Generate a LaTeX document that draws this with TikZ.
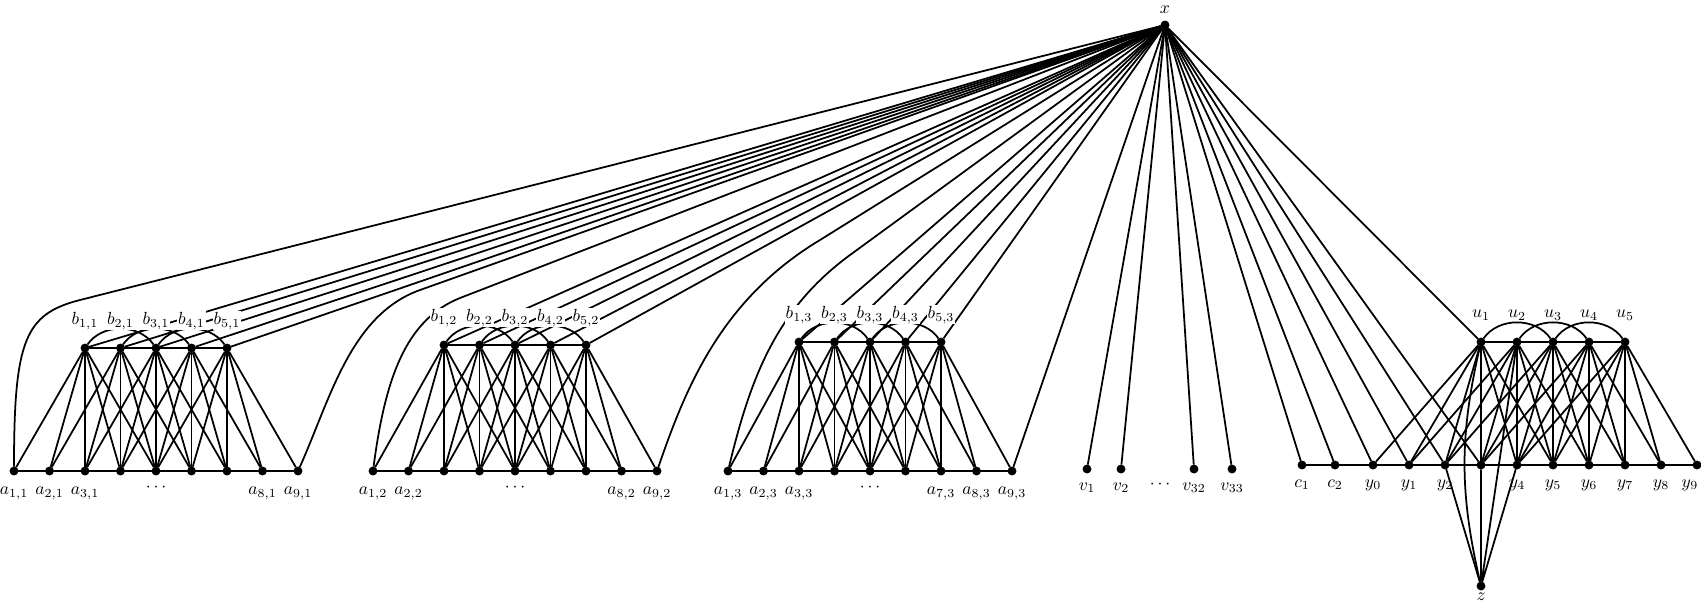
\documentclass[tikz,border=0pt]{standalone}
\usetikzlibrary{positioning}
\begin{document}
\begin{tikzpicture}[x=0.02cm,y=-0.02cm,line width=1pt,
  point/.style={draw,circle,fill=black,inner sep=0pt,minimum size=4pt},
  lab/.style={fill=white,inner sep=0.5pt}]
\useasboundingbox (0,0) rectangle (1701,610);
\node (x) at (1165,25)[point,label=above:$x$] {};
% the three blocks a_{i,k}, b_{i,k}
\foreach \k/\s/\h/\list in {1/14/348/{1,2,3,8,9},2/373/345/{1,2,8,9},3/728/342/{1,2,3,7,8,9}}{
  \foreach \i in {1,...,9}
    \node (a\i\k) at (\s+35.5*\i-35.5,471)[point] {};
  \foreach \i in \list
    \node (la\i\k)[below=3pt of a\i\k] {$a_{\i,\k}$};
  \node (dots\k) at (\s+142,488) {$\cdots$};
  \foreach \i in {1,...,5}
    \node (b\i\k) at (\s+35.5*\i+35.5,\h)[point] {};
  \draw (a1\k)--(a9\k) (b1\k)--(b5\k);
  \draw (b1\k) to[bend left=55] (b3\k) (b2\k) to[bend left=55] (b4\k) (b3\k) to[bend left=55] (b5\k);
  \foreach \i in {1,...,5}{
    \pgfmathtruncatemacro\last{\i+4}
    \foreach \j in {\i,...,\last}
      \draw (b\i\k)--(a\j\k);
    \draw (x)--(b\i\k);
  }
}
% ends of the blocks
\draw (a11) .. controls (14,340) and (25,314) .. (80,300) -- (x);
\draw (a91) .. controls (330,400) and (350,315) .. (420,290) -- (x);
\draw (a12) .. controls (385,380) and (405,320) .. (460,298) -- (x);
\draw (a92) .. controls (685,390) and (720,300) .. (820,240) -- (x);
\draw (a13) .. controls (750,380) and (775,310) .. (850,255) -- (x);
\draw (a93)--(x);
% v's
\foreach \n/\p in {1/1087,2/1121,32/1194,33/1232}{
  \node (v\n) at (\p,469)[point] {};
  \node (lv\n)[below=1.5pt of v\n] {$v_{\n}$};
  \draw (x)--(v\n);
}
\node (dotsv) at (1160,485) {$\cdots$};
% c's, y's, u's and z
\node (c1) at (1302,465)[point] {};
\node (c2) at (1335,465)[point] {};
\node (lc1)[below=2pt of c1] {$c_1$};
\node (lc2)[below=2pt of c2] {$c_2$};
\foreach \j in {0,...,9}
  \node (y\j) at (1373+36*\j,465)[point] {};
\foreach \j in {0,1,2,4,5,6,7,8}
  \node (ly\j)[below=2pt of y\j] {$y_{\j}$};
\node (ly9)[below=2pt of y9,xshift=-4pt] {$y_9$};
\foreach \i in {1,...,5}
  \node (u\i) at (1445+36*\i,342)[point,label={[label distance=6pt]above:$u_{\i}$}] {};
\node (z) at (1481,586)[point,label={[inner sep=1pt]below:$z$}] {};
\draw (c1)--(y9) (u1)--(u5);
\draw (u1) to[bend left=55] (u3) (u2) to[bend left=55] (u4) (u3) to[bend left=55] (u5);
\foreach \i in {1,...,5}{
  \pgfmathtruncatemacro\first{\i-1}
  \pgfmathtruncatemacro\last{\i+4}
  \foreach \j in {\first,...,\last}
    \draw (u\i)--(y\j);
}
\foreach \n in {c1,c2,y0,y1,y2,y3,u1}
  \draw (x)--(\n);
\draw (z)--(y2) (z)--(y3) (z)--(y4) (z)--(u2);
\draw (z) to[bend left=13] (u1);
% labels of the b's on top of the lines
\foreach \k in {1,2,3}
  \foreach \i in {1,...,5}
    \node (lb\i\k)[lab,above=7pt of b\i\k] {$b_{\i,\k}$};
\end{tikzpicture}
\end{document}
